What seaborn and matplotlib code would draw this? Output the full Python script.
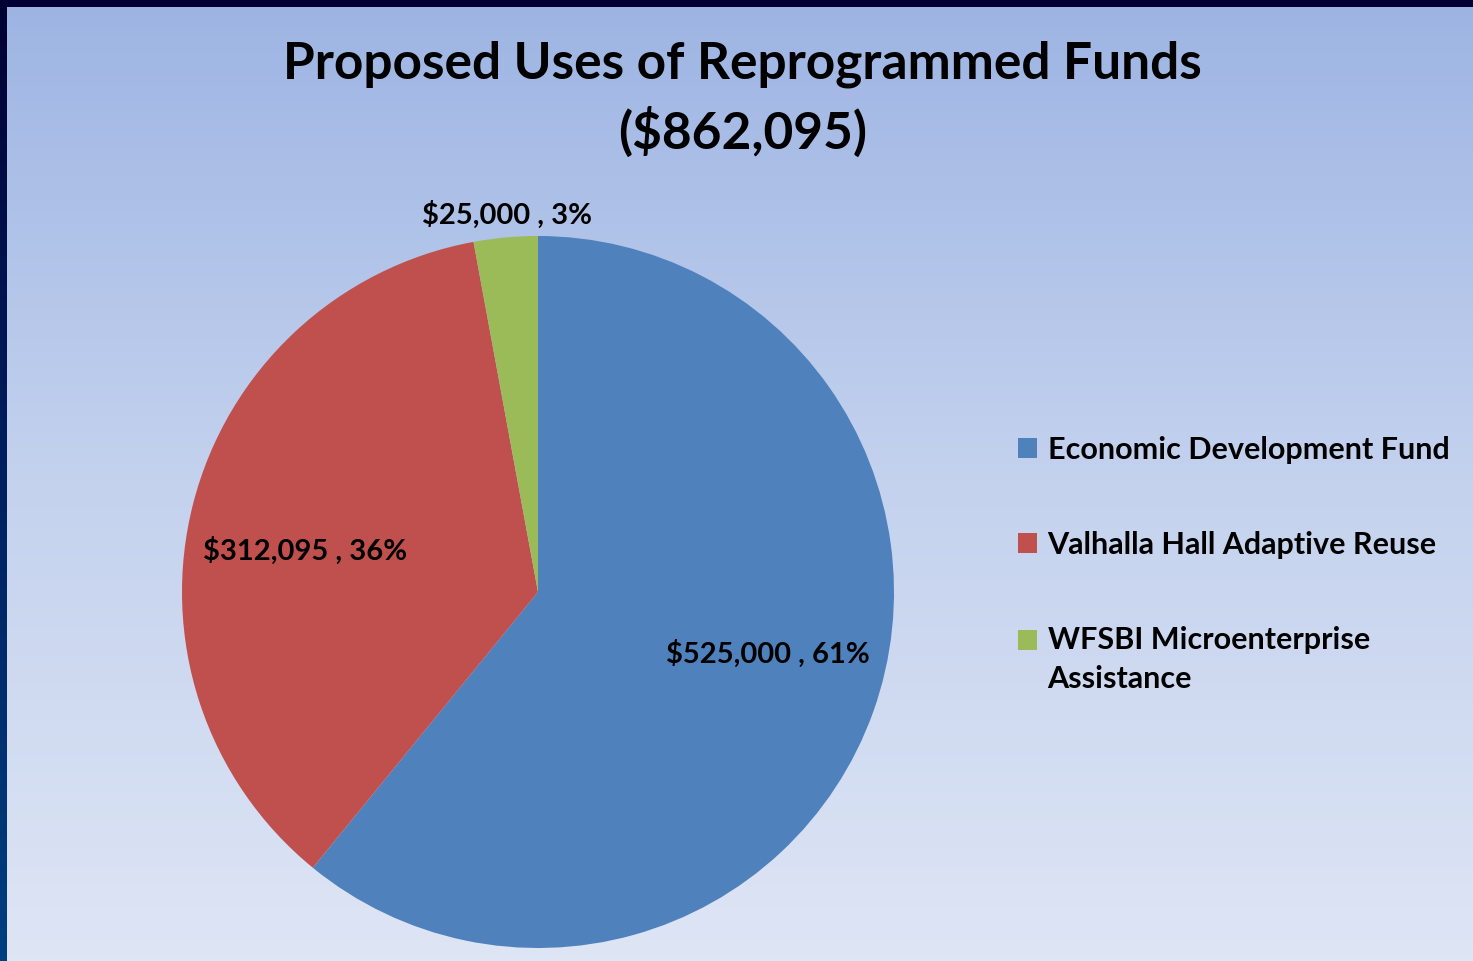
import numpy as np
import matplotlib
matplotlib.use("Agg")
import matplotlib.pyplot as plt
import seaborn as sns
from matplotlib.patches import Patch
from matplotlib.colors import LinearSegmentedColormap

categories = ["Economic Development Fund", "Valhalla Hall Adaptive Reuse",
              "WFSBI Microenterprise\nAssistance"]
values = [525000, 312095, 25000]
value_labels = ["$525,000", "$312,095", "$25,000"]
title_text = "Proposed Uses of Reprogrammed Funds\n($862,095)"

sns.set_theme(style="white")
plt.rcParams['font.family'] = ['Lato', 'DejaVu Sans']
plt.rcParams['font.weight'] = 'bold'
plt.rcParams['text.color'] = 'black'

colors = ["#4F81BD", "#C0504D", "#9BBB59"]

W, H = 1473, 961
fig = plt.figure(figsize=(W / 100, H / 100), dpi=100)

# background gradient
bg = fig.add_axes([0, 0, 1, 1], zorder=0)
bg.set_axis_off()
cmap = LinearSegmentedColormap.from_list("bg", ["#9DB4E3", "#C4D2EE", "#DEE5F5"])
grad = np.linspace(0, 1, 256).reshape(-1, 1)
bg.imshow(grad, aspect="auto", cmap=cmap, extent=[0, 1, 0, 1], origin="upper")
# dark frame (left & top)
left_cmap = LinearSegmentedColormap.from_list("lf", ["#000033", "#002060", "#003F80"])
bg.imshow(grad, aspect="auto", cmap=left_cmap, extent=[0, 7 / W, 0, 1], origin="upper")
bg.add_patch(plt.Rectangle((0, 1 - 7 / H), 1, 7 / H, color="#000033", lw=0))
bg.set_xlim(0, 1)
bg.set_ylim(0, 1)

# pie axes
cx, cy, r = 538, 592, 356
ax = fig.add_axes([(cx - r) / W, (H - cy - r) / H, 2 * r / W, 2 * r / H], zorder=1)
ax.set_axis_off()
wedges, _ = ax.pie(values, colors=colors, startangle=90, counterclock=False,
                   radius=1, wedgeprops=dict(linewidth=0))
ax.set_xlim(-1, 1)
ax.set_ylim(-1, 1)

total = sum(values)
dists = [0.67, 0.665, 1.063]
shifts = [4.5, 4.3, -0.5]
for w, v, vl, d, s in zip(wedges, values, value_labels, dists, shifts):
    ang = np.deg2rad((w.theta1 + w.theta2) / 2 + s)
    pct = round(100 * v / total)
    ax.text(d * np.cos(ang), d * np.sin(ang), f"{vl} , {pct}%",
            ha="center", va="center", fontsize=21, fontweight="bold", color="black")

fig.suptitle(title_text, x=0.504, y=0.958, fontsize=37, fontweight="bold",
             linespacing=1.45, color="black")

handles = [Patch(facecolor=c, edgecolor="none") for c in colors]
leg = fig.legend(handles, categories, loc="upper left",
                 bbox_to_anchor=(991 / W, 1 - 408 / H),
                 frameon=False, handlelength=0.62, handleheight=0.62,
                 handletextpad=0.33, labelspacing=2.2,
                 prop=dict(weight="bold", size=22))
for t in leg.get_texts():
    t.set_color("black")
    t.set_linespacing(1.48)
# align the multi-line entry's marker with its first text line
lh = leg.legend_handles[2]
lh.set_y(lh.get_y() + 14.5)

fig.savefig("out.png", dpi=100)
